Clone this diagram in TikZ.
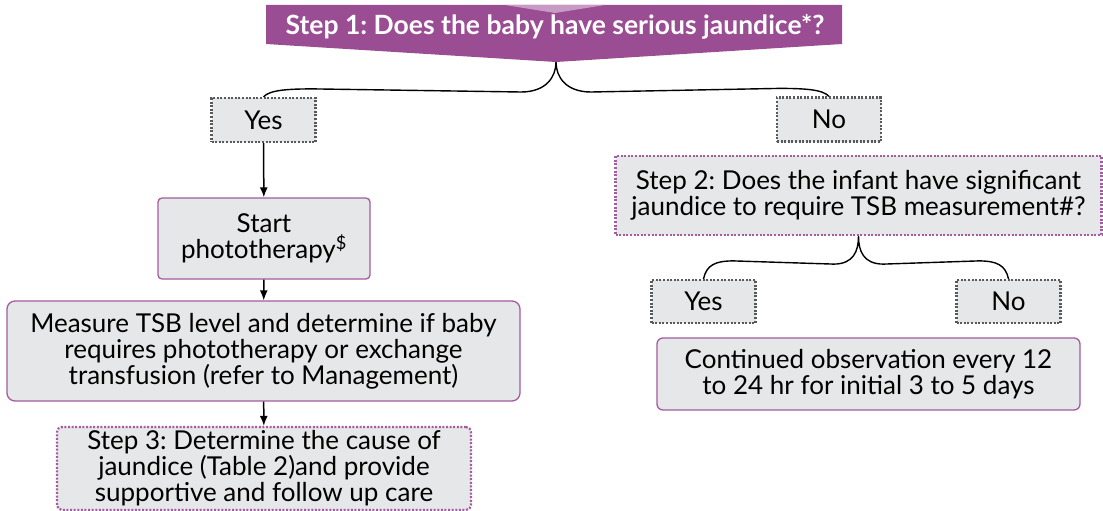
\documentclass[tikz,border=0pt]{standalone}
\usepackage{fontspec}
\setmainfont{Lato}
\usepackage{tikz}
\usetikzlibrary{calc,arrows.meta}
\frenchspacing
\definecolor{bannerpurple}{HTML}{9B4D94}
\definecolor{bannerlight}{HTML}{C89BC4}
\definecolor{boxgray}{HTML}{E6E7E8}
\definecolor{edgepurple}{HTML}{A45BA0}
\definecolor{dotgray}{HTML}{58595B}
\tikzset{
	box text/.style={font=\fontsize{26}{26}\selectfont, align=center, inner sep=0pt}
}
\tikzstyle{answer}=[box text, fill=boxgray, draw=dotgray, line width=2.2pt, dash pattern=on 2pt off 1.6pt, minimum width=104pt, minimum height=44pt]
\tikzstyle{action}=[box text, fill=boxgray, draw=edgepurple, line width=1.3pt, rounded corners=4pt]
\tikzstyle{question}=[box text, fill=boxgray, draw=edgepurple, line width=2.2pt, dash pattern=on 2pt off 1.6pt]
\tikzstyle{flow}=[-{Latex[length=10pt,width=8pt]}, line width=1.5pt]
\tikzstyle{brace}=[line width=1.4pt]

\begin{document}
\begin{tikzpicture}[x=1pt, y=-1pt]
	\useasboundingbox (0,0) rectangle (1103,511);
	% step 1 banner
	\fill[bannerpurple] (266,5) -- (842,5) -- (842,44) -- (556,62) -- (266,44) -- cycle;
	\fill[bannerlight] (505,5) -- (605,5) -- (555,13) -- cycle;
	\node[text=white, font=\fontsize{26.5}{28}\selectfont\bfseries] (step1) at (555,27) {Step 1: Does the baby have serious jaundice*?};
	\coordinate (tip) at (556,62);

	% left branch
	\node[answer] (yes1) at (263.5,120) {Yes};
	\node[action, minimum width=212pt, minimum height=81pt] (start) at (264,238.5) {Start\\phototherapy\textsuperscript{\$}};
	\node[action, minimum width=513pt, minimum height=100pt, rounded corners=8pt] (measure) at (263.5,351) {Measure TSB level and determine if baby\\requires phototherapy or exchange\\transfusion (refer to Management)};
	\node[question, minimum width=414pt, minimum height=83pt, rounded corners=5pt] (step3) at (264,468.5) {Step 3: Determine the cause of\\jaundice (Table 2)and provide\\supportive and follow up care};

	% right branch
	\node[answer] (no1) at (829,119.5) {No};
	\node[question, minimum width=486pt, minimum height=79pt] (step2) at (858.5,195.5) {Step 2: Does the infant have significant\\jaundice to require TSB measurement\#?};
	\node[answer, minimum height=43pt] (yes2) at (703.5,301.5) {Yes};
	\node[answer, minimum height=43pt] (no2) at (1008.5,301.5) {No};
	\node[action, minimum width=423pt, minimum height=72pt, rounded corners=6pt] (cont) at (868.5,374) {Continued observation every 12\\to 24 hr for initial 3 to 5 days};

	% braces
	\draw[brace] (yes1.north) .. controls +(6,-7) and +(-25,0) .. ($(yes1.north)+(50,-8)$) -- ($(tip)+(-35,30)$) .. controls +(25,0) and +(0,15) .. (tip) .. controls +(0,15) and +(-25,0) .. ($(tip)+(35,30)$) -- ($(no1.north)+(-50,-8)$) .. controls +(25,0) and +(-6,-7) .. (no1.north);
	\draw[brace] (yes2.north) .. controls +(3,-14) and +(-18,0) .. ($(yes2.north)+(30,-18)$) -- ($(step2.south)+(-25,28)$) .. controls +(20,0) and +(0,15) .. (step2.south) .. controls +(0,15) and +(-20,0) .. ($(step2.south)+(25,28)$) -- ($(no2.north)+(-30,-18)$) .. controls +(18,0) and +(-3,-14) .. (no2.north);

	% arrows
	\draw[flow] (yes1) -- (start);
	\draw[flow] (start) -- (measure);
	\draw[flow] (measure) -- (step3);
\end{tikzpicture}
\end{document}
